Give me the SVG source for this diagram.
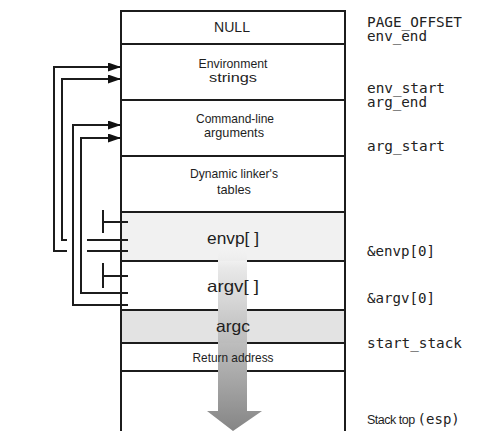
<svg xmlns="http://www.w3.org/2000/svg" width="481" height="431" viewBox="0 0 481 431">
<style>
.ln{stroke:#1c1c1c;stroke-width:2;fill:none}
.cond{font-family:"Liberation Sans","DejaVu Sans",sans-serif;fill:#1e1e1e;text-anchor:middle}
.mono{font-family:"DejaVu Sans Mono","Liberation Mono",monospace;font-size:14px;fill:#222}
</style>
<defs>
<marker id="ah" markerUnits="userSpaceOnUse" markerWidth="14" markerHeight="10" refX="13" refY="4.5" orient="auto">
<path d="M0,0 L13,4.5 L0,9 z" fill="#111"/>
</marker>
<linearGradient id="grow" gradientUnits="userSpaceOnUse" x1="0" y1="232" x2="0" y2="431">
<stop offset="0" stop-color="#ffffff" stop-opacity="0"/>
<stop offset="0.18" stop-color="#e6e6e6" stop-opacity="0.9"/>
<stop offset="1" stop-color="#858585"/>
</linearGradient>
</defs>
<rect width="481" height="431" fill="#fff"/>

<g id="null">
<text class="cond" x="232" y="32" font-size="15" textLength="36" lengthAdjust="spacingAndGlyphs">NULL</text>
</g>
<g id="env-strings">
<text class="cond" x="233" y="68" font-size="13.5" textLength="69" lengthAdjust="spacingAndGlyphs">Environment</text>
<text class="cond" x="233" y="82" font-size="13.5" textLength="48" lengthAdjust="spacingAndGlyphs">strings</text>
</g>
<g id="cmd-args">
<text class="cond" x="235" y="123" font-size="13" textLength="78" lengthAdjust="spacingAndGlyphs">Command-line</text>
<text class="cond" x="234" y="137" font-size="13" textLength="60" lengthAdjust="spacingAndGlyphs">arguments</text>
</g>
<g id="dyn-linker">
<text class="cond" x="234" y="178" font-size="13.5" textLength="88" lengthAdjust="spacingAndGlyphs">Dynamic linker's</text>
<text class="cond" x="234" y="194" font-size="13.5" textLength="34" lengthAdjust="spacingAndGlyphs">tables</text>
</g>
<g id="envp">
<rect x="121" y="212" width="224" height="49" fill="#f1f1f1"/>
</g>
<g id="argc">
<rect x="121" y="310" width="224" height="33" fill="#e3e3e3"/>
</g>

<g id="stack-growth">
<path d="M218,234 H247 V411 H262 L233,431 L207,411 H218 Z" fill="url(#grow)"/>
</g>

<g id="frame">
<path class="ln" d="M121,431 V11 H345 V431"/>
<path class="ln" d="M121,44 H345 M121,100 H345 M121,156 H345 M121,212 H345"/>
<path class="ln" d="M121,261 H218 M247,261 H345 M121,310 H218 M247,310 H345 M121,343 H218 M247,343 H345 M121,371 H218 M247,371 H345"/>
</g>

<g id="labels-in">
<text class="cond" x="233" y="244" font-size="16.5" textLength="52" lengthAdjust="spacingAndGlyphs">envp[ ]</text>
<text class="cond" x="233" y="292" font-size="16.5" textLength="52" lengthAdjust="spacingAndGlyphs">argv[ ]</text>
<text class="cond" x="233" y="332" font-size="16.5" textLength="34" lengthAdjust="spacingAndGlyphs">argc</text>
<text class="cond" x="233" y="362" font-size="13.5" textLength="81" lengthAdjust="spacingAndGlyphs">Return address</text>
</g>

<g id="connectors">
<path class="ln" d="M128,251 H87 M67,251 H54 V67 H121" marker-end="url(#ah)"/>
<path class="ln" d="M128,240 H87 M67,240 H62 V79 H121" marker-end="url(#ah)"/>
<path class="ln" d="M128,305 H73 V125 H121" marker-end="url(#ah)"/>
<path class="ln" d="M128,293 H81 V138 H121" marker-end="url(#ah)"/>
<path class="ln" d="M103,210 V233 M103,222 H128"/>
<path class="ln" d="M103,263 V288 M103,276 H128"/>
</g>

<g id="addresses">
<text class="mono" x="367" y="27" textLength="95" lengthAdjust="spacingAndGlyphs">PAGE_OFFSET</text>
<text class="mono" x="367" y="41" textLength="60" lengthAdjust="spacingAndGlyphs">env_end</text>
<text class="mono" x="367" y="93" textLength="78" lengthAdjust="spacingAndGlyphs">env_start</text>
<text class="mono" x="367" y="107" textLength="60" lengthAdjust="spacingAndGlyphs">arg_end</text>
<text class="mono" x="367" y="151" textLength="78" lengthAdjust="spacingAndGlyphs">arg_start</text>
<text class="mono" x="367" y="256" textLength="68" lengthAdjust="spacingAndGlyphs">&amp;envp[0]</text>
<text class="mono" x="367" y="303" textLength="68" lengthAdjust="spacingAndGlyphs">&amp;argv[0]</text>
<text class="mono" x="367" y="348" textLength="95" lengthAdjust="spacingAndGlyphs">start_stack</text>
<text x="367" y="424" fill="#1e1e1e"><tspan font-family="Liberation Sans, sans-serif" font-size="12.5" letter-spacing="-0.5">Stack top </tspan><tspan font-family="DejaVu Sans Mono, monospace" font-size="14">(esp)</tspan></text>
</g>
</svg>
